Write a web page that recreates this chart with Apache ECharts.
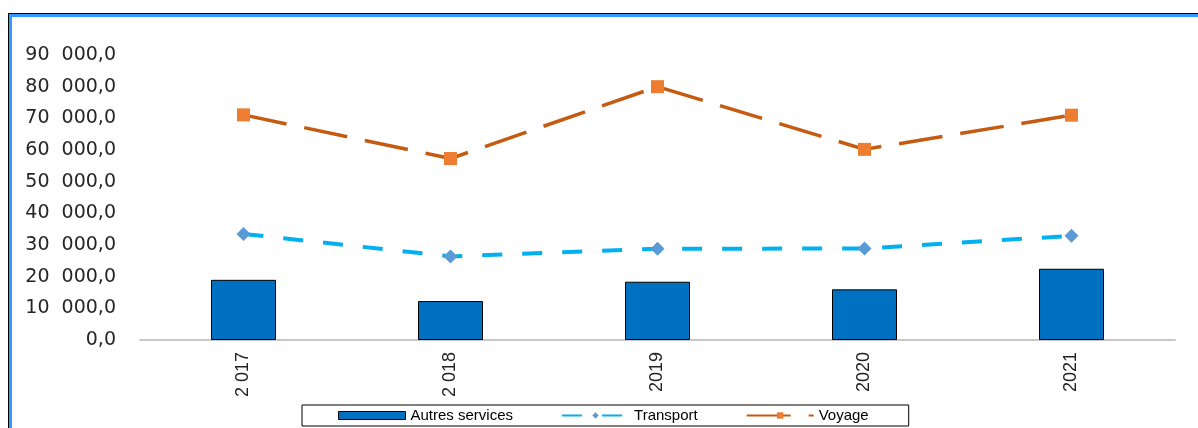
<!DOCTYPE html>
<html><head><meta charset="utf-8">
<script src="https://cdn.jsdelivr.net/npm/echarts@6/dist/echarts.min.js"></script>
<style>html,body{margin:0;padding:0;background:#fff}#c{width:1198px;height:428px}</style>
</head><body><div id="c"></div>
<script>
const categories = ['2 017', '2 018', '2019', '2020', '2021'];
const autresServices = [19000, 12300, 18400, 16000, 22500];
const transport = [33500, 26400, 28800, 28900, 32900];
const voyage = [71100, 57300, 80000, 60200, 71000];
const yTicks = [0, 10000, 20000, 30000, 40000, 50000, 60000, 70000, 80000, 90000];

function fmt(v) {
  if (v === 0) return '0,0';
  const th = Math.floor(v / 1000);
  return th + '  000,0';
}

const chart = echarts.init(document.getElementById('c'));
chart.setOption({
  animation: false,
  backgroundColor: '#fff',
  graphic: [
    { type: 'rect', shape: { x: 8, y: 13, width: 1200, height: 1 }, style: { fill: '#000' }, z: 100 },
    { type: 'rect', shape: { x: 8, y: 14, width: 1200, height: 3 }, style: { fill: '#3399ff' }, z: 100 },
    { type: 'rect', shape: { x: 8, y: 13, width: 1, height: 420 }, style: { fill: '#000' }, z: 100 },
    { type: 'rect', shape: { x: 9, y: 14, width: 3, height: 420 }, style: { fill: '#3399ff' }, z: 100 }
  ],
  grid: { left: 140, right: 23, top: 55, bottom: 88, containLabel: false },
  legend: {
    bottom: 2,
    left: 302,
    data: [
      { name: 'Autres services', icon: 'rect', itemStyle: { borderColor: '#000', borderWidth: 1 } },
      { name: 'Transport' },
      { name: 'Voyage' }
    ],
    itemWidth: 67,
    itemHeight: 8,
    itemGap: 48,
    padding: [3, 40, 3, 36],
    borderColor: '#000',
    borderWidth: 1,
    borderRadius: 0,
    textStyle: { fontFamily: 'Liberation Sans, Arial', fontSize: 15, color: '#000' }
  },
  xAxis: {
    type: 'category',
    data: categories,
    axisLine: { lineStyle: { color: '#c8c8c8', width: 2 } },
    axisTick: { show: false },
    axisLabel: {
      rotate: 90,
      fontFamily: 'Liberation Sans, Arial',
      fontSize: 18,
      color: '#222',
      margin: 12
    }
  },
  yAxis: {
    type: 'value',
    min: 0,
    max: 90000,
    interval: 10000,
    splitLine: { show: false },
    axisLine: { show: false },
    axisTick: { show: false },
    axisLabel: {
      formatter: fmt,
      fontFamily: 'DejaVu Sans, Arial',
      fontSize: 19,
      color: '#262626',
      margin: 24
    }
  },
  series: [
    {
      name: 'Autres services',
      type: 'bar',
      data: autresServices,
      barWidth: 65,
      itemStyle: { color: '#0070C0', borderColor: '#000', borderWidth: 1 }
    },
    {
      name: 'Transport',
      type: 'line',
      data: transport,
      symbol: 'diamond',
      symbolSize: 14,
      itemStyle: { color: '#5B9BD5' },
      lineStyle: { color: '#00B0F0', width: 4, type: [20, 20] },
      z: 3
    },
    {
      name: 'Voyage',
      type: 'line',
      data: voyage,
      symbol: 'rect',
      symbolSize: 13,
      itemStyle: { color: '#ED7D31' },
      lineStyle: { color: '#C55A11', width: 3.5, type: [44, 18] },
      z: 3
    }
  ]
});
</script></body></html>
